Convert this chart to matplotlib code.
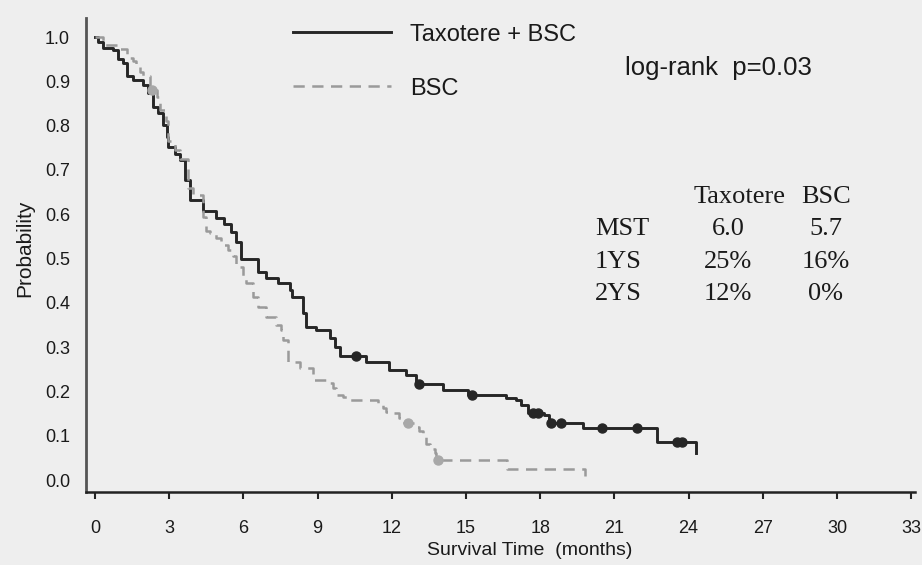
import numpy as np
import matplotlib
matplotlib.use("Agg")
from matplotlib import pyplot as plt

# Kaplan-Meier steps (months, survival probability)
taxotere_time = [0, 0.13, 0.34, 0.74, 0.94, 1.14, 1.28, 1.55, 1.95, 2.15, 2.36, 2.56, 2.76, 2.90,
	2.96, 3.23, 3.43, 3.65, 3.84, 4.37, 4.91, 5.20, 5.52, 5.72, 5.90, 6.60, 6.93, 7.40, 7.87,
	7.97, 8.41, 8.55, 8.95, 9.49, 9.69, 9.89, 10.97, 11.90, 12.58, 12.99, 14.06, 15.10, 16.62,
	17.02, 17.23, 17.50, 18.17, 18.37, 19.72, 22.74, 24.29]
taxotere_surv = [1.0, 0.988, 0.976, 0.970, 0.951, 0.942, 0.912, 0.903, 0.892, 0.873, 0.843, 0.828,
	0.801, 0.775, 0.752, 0.737, 0.722, 0.677, 0.632, 0.607, 0.591, 0.579, 0.560, 0.538, 0.500,
	0.470, 0.455, 0.444, 0.429, 0.413, 0.376, 0.345, 0.339, 0.320, 0.301, 0.280, 0.266, 0.248,
	0.237, 0.217, 0.203, 0.193, 0.185, 0.181, 0.169, 0.151, 0.147, 0.128, 0.117, 0.086, 0.062]
taxotere_censor = [10.56, 13.12, 15.25, 17.70, 17.90, 18.44, 18.84, 20.50, 21.93, 23.55, 23.75]

bsc_time = [0, 0.34, 0.88, 1.28, 1.55, 1.68, 1.82, 1.95, 2.22, 2.49, 2.62, 2.89, 2.96, 3.23, 3.43,
	3.75, 3.97, 4.37, 4.51, 4.64, 4.91, 5.11, 5.40, 5.58, 5.72, 5.99, 6.12, 6.39, 6.59, 6.93,
	7.34, 7.54, 7.62, 7.80, 8.28, 8.81, 9.35, 9.62, 9.76, 10.02, 10.29, 11.45, 11.64, 11.77,
	11.91, 12.31, 12.50, 12.99, 13.12, 13.25, 13.39, 13.55, 13.73, 13.80, 16.67, 19.80]
bsc_surv = [1.0, 0.982, 0.972, 0.952, 0.945, 0.939, 0.921, 0.912, 0.881, 0.865, 0.835, 0.810, 0.765,
	0.745, 0.725, 0.660, 0.643, 0.594, 0.562, 0.557, 0.546, 0.530, 0.519, 0.506, 0.481, 0.459,
	0.444, 0.414, 0.391, 0.369, 0.350, 0.339, 0.316, 0.266, 0.252, 0.226, 0.218, 0.207, 0.192,
	0.188, 0.181, 0.173, 0.162, 0.154, 0.151, 0.139, 0.129, 0.120, 0.110, 0.100, 0.082, 0.070,
	0.060, 0.045, 0.025, 0.010]
bsc_censor = [2.29, 12.65, 13.86]

# summary table
table_cols = ["Taxotere", "BSC"]
table_rows = ["MST", "1YS", "2YS"]
table_vals = [["6.0", "5.7"], ["25%", "16%"], ["12%", "0%"]]

x_ticks = list(range(0, 34, 3))
y_ticks = [0.0, 0.1, 0.2, 0.3, 0.4, 0.5, 0.6, 0.7, 0.8, 0.9, 1.0]

BG = "#eeeeee"
INK = "#1a1a1a"
SANS = ["Liberation Sans", "DejaVu Sans"]
SERIF = ["Liberation Serif", "DejaVu Serif"]


def step_value(times, surv, t):
	# value of the KM step function at time t
	idx = np.searchsorted(times, t, side="right") - 1
	return np.asarray(surv)[idx]


def main():
	plt.rcParams['font.family'] = SANS
	fig = plt.figure(figsize=(9.22, 5.65), dpi=100, facecolor=BG)
	ax = fig.add_axes([0.0933, 0.1292, 0.899, 0.839], facecolor=BG)

	l1, = ax.step(taxotere_time, taxotere_surv, where="post", color="#262626", lw=2.1,
		label="Taxotere + BSC")
	l2, = ax.step(bsc_time, bsc_surv, where="post", color="#9a9a9a", lw=1.8,
		dashes=(4.5, 3), label="BSC")

	# censored observations
	ax.plot(taxotere_censor, step_value(taxotere_time, taxotere_surv, taxotere_censor), "o",
		color="#262626", ms=6.5)
	ax.plot(bsc_censor, step_value(bsc_time, bsc_surv, bsc_censor), "o",
		color="#a8a8a8", ms=6.5)

	ax.set_xlim(-0.36, 33.15)
	ax.set_ylim(-0.027, 1.043)
	ax.set_xticks(x_ticks)
	ax.set_yticks(y_ticks)
	ax.set_yticklabels(["%.1f" % v for v in y_ticks])

	for side in ["top", "right"]:
		ax.spines[side].set_visible(False)
	ax.spines["left"].set_color("#555555")
	ax.spines["left"].set_linewidth(2.0)
	ax.spines["bottom"].set_color("#222222")
	ax.spines["bottom"].set_linewidth(1.8)

	ax.tick_params(axis="x", direction="out", length=5, width=1.5, color="#222222",
		pad=15, labelsize=13, labelcolor=INK)
	ax.tick_params(axis="y", length=0, pad=11.5, labelsize=13, labelcolor=INK)

	ax.set_xlabel("Survival Time  (months)", fontsize=14, color=INK)
	ax.xaxis.set_label_coords(0.535, -0.105)
	ax.set_ylabel("Probability", fontsize=15, color=INK)
	ax.yaxis.set_label_coords(-0.063, 0.515)

	leg = ax.legend(handles=[l1, l2], loc="upper left", bbox_to_anchor=(0.25, 0.988),
		frameon=False, fontsize=17, handlelength=4.15, handletextpad=0.8,
		labelspacing=1.35, borderpad=0, borderaxespad=0)
	for t in leg.get_texts():
		t.set_color(INK)

	ax.text(0.650, 0.8945, "log-rank  p=0.03", transform=ax.transAxes, fontsize=18.5,
		va="center", ha="left", color=INK)

	# table of median / 1-year / 2-year survival
	col_x = [(740 - 86) / 829, (826 - 86) / 829]
	row_y = [(492 - 229) / 474, (492 - 262) / 474, (492 - 294) / 474]
	head_y = (492 - 197) / 474
	for j, name in enumerate(table_cols):
		ax.text(col_x[j], head_y, name, transform=ax.transAxes, family=SERIF,
			fontsize=19, ha="center", va="center", color=INK)
	for i, name in enumerate(table_rows):
		ax.text((595 - 86) / 829, row_y[i], name, transform=ax.transAxes, family=SERIF,
			fontsize=19, ha="left", va="center", color=INK)
		for j in range(len(table_cols)):
			ax.text(col_x[j] - (12 / 829 if j == 0 else 0), row_y[i], table_vals[i][j],
				transform=ax.transAxes, family=SERIF, fontsize=19, ha="center",
				va="center", color=INK)

	fig.savefig("out.png", dpi=100, facecolor=BG)


if __name__ == '__main__':
	main()
